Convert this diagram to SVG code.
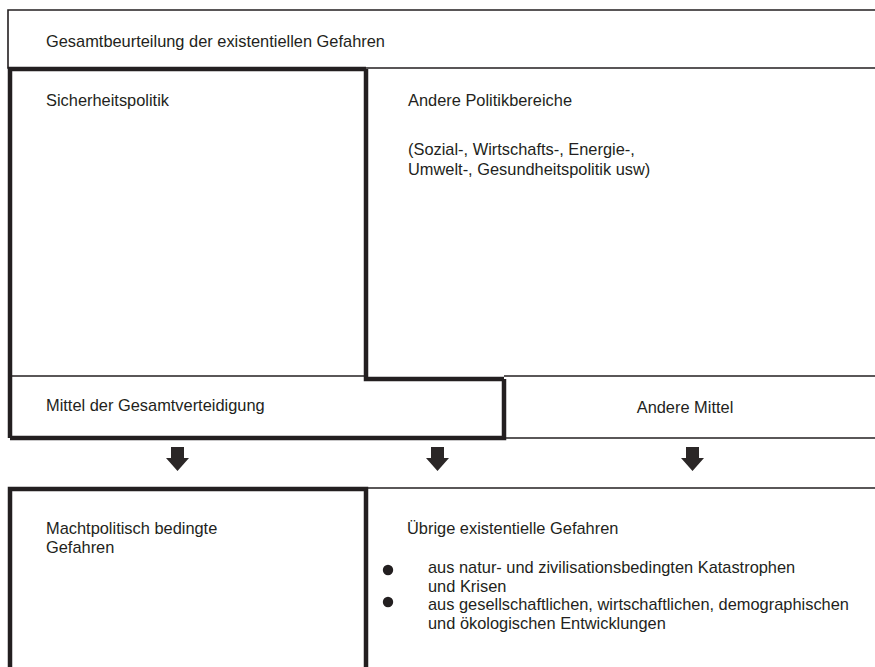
<svg xmlns="http://www.w3.org/2000/svg" width="875" height="667" viewBox="0 0 875 667">
<style>
.thin{fill:none;stroke:#231f20;stroke-width:1.6}
.thick{fill:none;stroke:#231f20;stroke-width:4.5}
text{font-family:"Liberation Sans",Arial,sans-serif;font-size:16.4px;fill:#231f20}
.arrow{fill:#2b2727}
</style>
<rect width="875" height="667" fill="#ffffff"/>
<g id="gesamtbeurteilung">
<path class="thin" d="M876,10 H8 V68 H876"/>
<text x="46" y="47">Gesamtbeurteilung der existentiellen Gefahren</text>
</g>
<g id="andere-politikbereiche">
<path class="thick" d="M366,69 V379 H504"/>
<path class="thin" d="M504,376 H876"/>
<text x="408" y="106">Andere Politikbereiche</text>
<text x="408" y="155">(Sozial-, Wirtschafts-, Energie-,</text>
<text x="408" y="175">Umwelt-, Gesundheitspolitik usw)</text>
</g>
<g id="sicherheitspolitik">
<path class="thick" d="M10,438 V69 H366"/>
<path class="thin" d="M10,376 H366"/>
<text x="46" y="106">Sicherheitspolitik</text>
</g>
<g id="mittel-gesamtverteidigung">
<path class="thick" d="M504,379 V438 H10"/>
<text x="46" y="411">Mittel der Gesamtverteidigung</text>
</g>
<g id="andere-mittel">
<path class="thin" d="M504,438 H876"/>
<text x="685" y="413" text-anchor="middle">Andere Mittel</text>
</g>
<g id="connectors">
<path class="arrow" d="M171,447 H184 V458 H189 L177.5,471 L166,458 H171 Z"/>
<path class="arrow" d="M431,447 H444 V458 H449 L437.5,471 L426,458 H431 Z"/>
<path class="arrow" d="M686,447 H699 V458 H704 L692.5,471 L681,458 H686 Z"/>
</g>
<g id="machtpolitisch">
<path class="thick" d="M10,670 V489 H366 V670"/>
<text x="46" y="534">Machtpolitisch bedingte</text>
<text x="46" y="553">Gefahren</text>
</g>
<g id="uebrige-gefahren">
<path class="thin" d="M366,488 H876"/>
<text x="407" y="534">Übrige existentielle Gefahren</text>
<circle cx="388" cy="570" r="5.2" fill="#231f20"/>
<text x="428" y="573">aus natur- und zivilisationsbedingten Katastrophen</text>
<text x="428" y="592">und Krisen</text>
<circle cx="388" cy="602" r="5.2" fill="#231f20"/>
<text x="428" y="610">aus gesellschaftlichen, wirtschaftlichen, demographischen</text>
<text x="428" y="629">und ökologischen Entwicklungen</text>
</g>
</svg>
